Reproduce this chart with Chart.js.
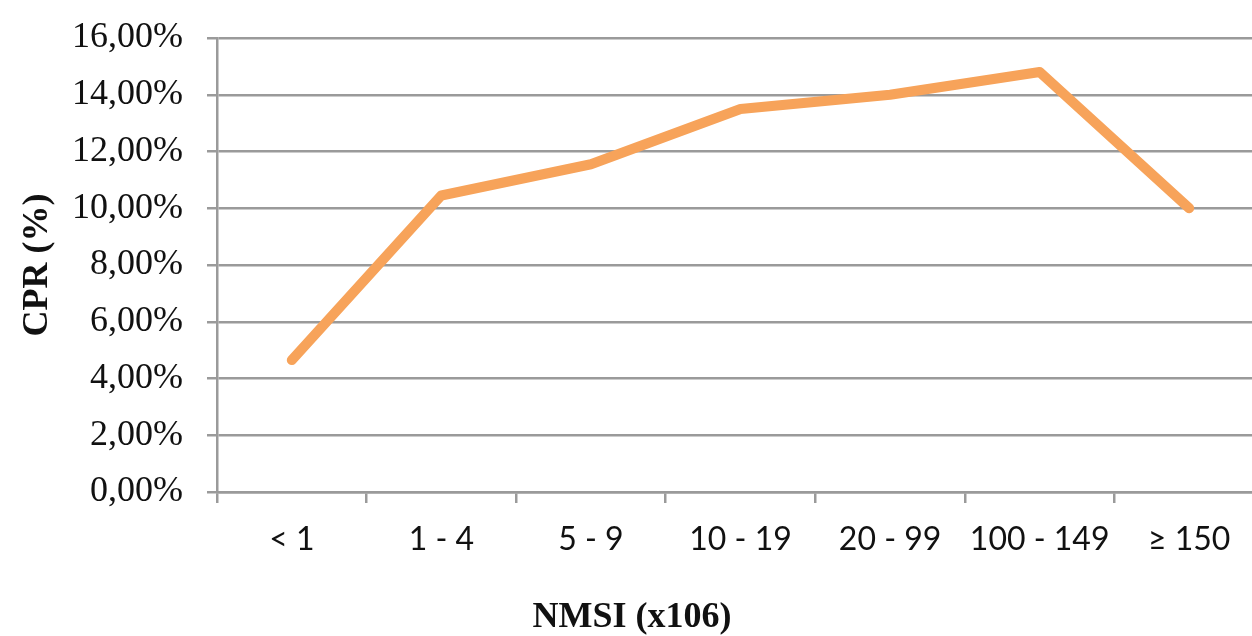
<!DOCTYPE html>
<html>
<head>
<meta charset="utf-8">
<title>CPR par NMSI</title>
<script src="https://cdn.jsdelivr.net/npm/chart.js@4/dist/chart.umd.min.js"></script>
<style>
  html, body { margin: 0; padding: 0; background: #fff; overflow: hidden; }
  #chart { display: block; }
</style>
</head>
<body>
<canvas id="chart" width="1264" height="636"></canvas>
<script>
const categories = ["< 1", "1 - 4", "5 - 9", "10 - 19", "20 - 99", "100 - 149", "≥ 150"];
const cprValues = [4.65, 10.45, 11.55, 13.5, 14.0, 14.8, 10.0];
const yTicks = [0, 2, 4, 6, 8, 10, 12, 14, 16];

const gridColor = "#9a9a9a";
const textColor = "#111";

function percentLabel(value) {
  return `${Number(value).toFixed(2).replace(".", ",")}%`;
}

new Chart(document.querySelector("#chart"), {
  type: "line",
  data: {
    labels: categories,
    datasets: [
      {
        label: "CPR",
        data: cprValues,
        borderColor: "#f7a35a",
        borderWidth: 10,
        borderCapStyle: "round",
        borderJoinStyle: "round",
        pointRadius: 0,
        tension: 0,
        fill: false
      }
    ]
  },
  options: {
    responsive: false,
    maintainAspectRatio: false,
    animation: false,
    devicePixelRatio: 1,
    layout: { padding: { top: 38, left: 0, right: 0, bottom: 0 } },
    plugins: {
      legend: { display: false },
      tooltip: { enabled: false },
      title: {
        display: true,
        position: "bottom",
        text: "NMSI (x106)",
        color: textColor,
        padding: { top: 0, bottom: 0 },
        font: { family: "Liberation Serif", size: 36, weight: "bold", lineHeight: 1 }
      }
    },
    scales: {
      x: {
        offset: true,
        afterFit: (scale) => { scale.height = 108; },
        grid: {
          offset: true,
          drawOnChartArea: false,
          drawTicks: true,
          tickLength: 11,
          color: gridColor,
          lineWidth: 2.5
        },
        border: { color: gridColor, width: 2.5 },
        ticks: {
          color: textColor,
          padding: 17,
          maxRotation: 0,
          font: { family: "Lato", size: 32 }
        }
      },
      y: {
        min: 0,
        max: 16,
        afterFit: (scale) => {
          scale.width = 217;
          scale.paddingTop = 0;
          scale.paddingBottom = 0;
        },
        afterBuildTicks: (scale) => {
          scale.ticks = yTicks.map((value) => ({ value }));
        },
        grid: {
          drawTicks: true,
          tickLength: 10,
          color: gridColor,
          lineWidth: 2.5
        },
        border: { color: gridColor, width: 2.5 },
        ticks: {
          color: textColor,
          padding: 24,
          callback: (value) => percentLabel(value),
          font: { family: "Liberation Serif", size: 36 }
        },
        title: {
          display: true,
          text: "CPR (%)",
          color: textColor,
          padding: { top: 16, bottom: 0 },
          font: { family: "Liberation Serif", size: 36, weight: "bold" }
        }
      }
    }
  }
});
</script>
</body>
</html>
